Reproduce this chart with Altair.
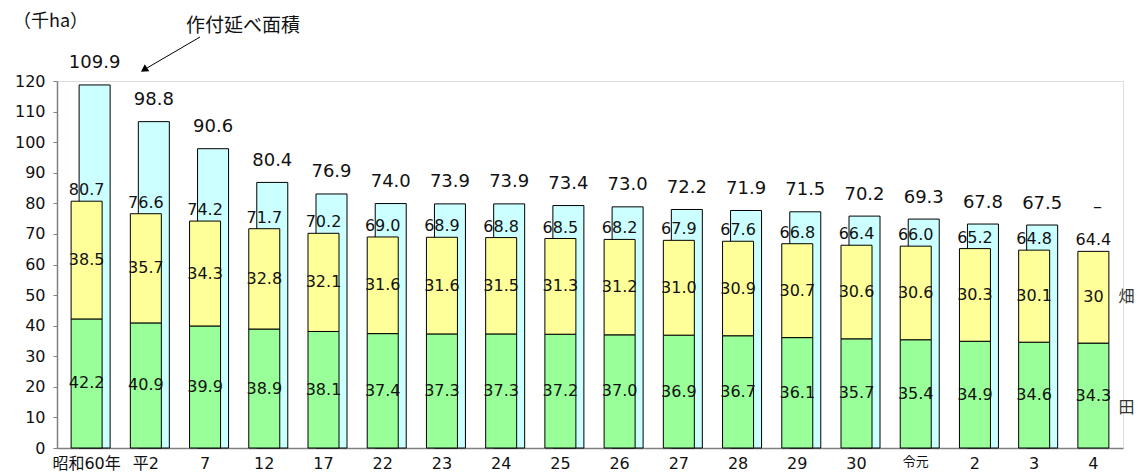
import altair as alt
import pandas as pd

# ---- data ----
cats = ["昭和60年", "平2", "7", "12", "17", "22", "23", "24", "25", "26",
        "27", "28", "29", "30", "令元", "2", "3", "4"]
paddy = [42.2, 40.9, 39.9, 38.9, 38.1, 37.4, 37.3, 37.3, 37.2, 37.0,
         36.9, 36.7, 36.1, 35.7, 35.4, 34.9, 34.6, 34.3]
field = [38.5, 35.7, 34.3, 32.8, 32.1, 31.6, 31.6, 31.5, 31.3, 31.2,
         31.0, 30.9, 30.7, 30.6, 30.6, 30.3, 30.1, 30]
total = [80.7, 76.6, 74.2, 71.7, 70.2, 69.0, 68.9, 68.8, 68.5, 68.2,
         67.9, 67.6, 66.8, 66.4, 66.0, 65.2, 64.8, 64.4]
planted = [109.9, 98.8, 90.6, 80.4, 76.9, 74.0, 73.9, 73.9, 73.4, 73.0,
           72.2, 71.9, 71.5, 70.2, 69.3, 67.8, 67.5, None]
series_names = ["田", "畑"]
series_colors = ["#99FF99", "#FFFF99"]
planted_color = "#CCFFFF"
unit_label = "（千ha）"
planted_name = "作付延べ面積"
missing_mark = "–"

NUM_FONT = "DejaVu Sans"
JP_FONT = "Noto Sans CJK JP"
MIX_FONT = "DejaVu Sans, Noto Sans CJK JP"


def fmt(v):
    return str(v) if isinstance(v, int) else f"{v:.1f}"


df = pd.DataFrame({"cat": cats, "paddy": paddy, "field": field,
                   "total": total})
df["paddy_lbl"] = [fmt(v) for v in paddy]
df["field_lbl"] = [fmt(v) for v in field]
df["total_lbl"] = [fmt(v) for v in total]
df["paddy_mid"] = df["paddy"] / 2
df["field_mid"] = df["paddy"] + df["field"] / 2

pl = pd.DataFrame({"cat": cats, "planted": planted})
pl_ok = pl.dropna().copy()
pl_ok["lbl"] = [fmt(v) for v in pl_ok["planted"]]
pl_missing = df[[p is None for p in planted]].copy()

long = pd.DataFrame({
    "cat": cats * 2,
    "series": [series_names[0]] * len(cats) + [series_names[1]] * len(cats),
    "value": paddy + field,
    "ord": [0] * len(cats) + [1] * len(cats),
})

main_scale = alt.Scale(domain=[0, 120])
# the planted-area bars are drawn on their own (hidden) scale in the original
planted_scale = alt.Scale(domain=[0, 111.1])

xaxis = alt.Axis(title=None, labelAngle=0, ticks=False, labelPadding=7,
                 labelFont=MIX_FONT,
                 labelFontSize={"expr": "datum.value == '令元' ? 13 : 16"},
                 labelColor="#111", domainColor="#808080",
                 domainWidth=1.5, grid=False)
xenc = alt.X("cat:N", sort=cats,
             scale=alt.Scale(paddingInner=0, paddingOuter=0), axis=xaxis)

cyan = alt.Chart(pl_ok).mark_bar(
    width=31, xOffset=8, fill=planted_color, stroke="#000", strokeWidth=1
).encode(
    x=xenc,
    y=alt.Y("planted:Q", scale=planted_scale, axis=None),
)

cyan_txt = alt.Chart(pl_ok).mark_text(
    dx=8, dy=-21.5, fontSize=18, font=NUM_FONT, color="#111"
).encode(
    x=xenc,
    y=alt.Y("planted:Q", scale=planted_scale, axis=None),
    text="lbl:N",
)

stack = alt.Chart(long).mark_bar(
    width=31, stroke="#000", strokeWidth=1
).encode(
    x=xenc,
    y=alt.Y("value:Q", stack="zero", scale=main_scale,
            axis=alt.Axis(title=None, values=list(range(0, 121, 10)),
                          grid=False, tickSize=4, labelPadding=8,
                          labelFont=NUM_FONT, labelFontSize=16,
                          labelColor="#111", domainColor="#808080",
                          tickColor="#808080", domainWidth=1.5)),
    color=alt.Color("series:N", scale=alt.Scale(domain=series_names,
                                                range=series_colors),
                    legend=None),
    order=alt.Order("ord:Q"),
)

txt_common = dict(fontSize=16, font=NUM_FONT, color="#111")

paddy_txt = alt.Chart(df).mark_text(**txt_common).encode(
    x=xenc,
    y=alt.Y("paddy_mid:Q", scale=main_scale, axis=None),
    text="paddy_lbl:N",
)
field_txt = alt.Chart(df).mark_text(**txt_common).encode(
    x=xenc,
    y=alt.Y("field_mid:Q", scale=main_scale, axis=None),
    text="field_lbl:N",
)
total_txt = alt.Chart(df).mark_text(dy=-11, **txt_common).encode(
    x=xenc,
    y=alt.Y("total:Q", scale=main_scale, axis=None),
    text="total_lbl:N",
)
missing_txt = alt.Chart(pl_missing).mark_text(
    dx=4, dy=-44, fontSize=18, font=NUM_FONT, color="#111"
).encode(
    x=xenc,
    y=alt.Y("total:Q", scale=main_scale, axis=None),
    text=alt.value(missing_mark),
)

last = df.iloc[[-1]]
field_name = alt.Chart(last).mark_text(
    dx=33, fontSize=16, font=JP_FONT, color="#333"
).encode(
    x=xenc,
    y=alt.Y("field_mid:Q", scale=main_scale, axis=None),
    text=alt.value(series_names[1]),
)
paddy_name = alt.Chart(last).mark_text(
    dx=33, dy=12, fontSize=16, font=JP_FONT, color="#333"
).encode(
    x=xenc,
    y=alt.Y("paddy_mid:Q", scale=main_scale, axis=None),
    text=alt.value(series_names[0]),
)

one = pd.DataFrame({"k": [0]})
unit_txt = alt.Chart(one).mark_text(
    align="left", baseline="middle", fontSize=18, font=JP_FONT, color="#111"
).encode(x=alt.value(-44), y=alt.value(-59), text=alt.value(unit_label))

anno_txt = alt.Chart(one).mark_text(
    align="center", baseline="middle", fontSize=19, font=JP_FONT,
    color="#111"
).encode(x=alt.value(186), y=alt.value(-55), text=alt.value(planted_name))

anno_line = alt.Chart(one).mark_rule(color="#000", strokeWidth=1).encode(
    x=alt.value(143), x2=alt.value(90), y=alt.value(-44), y2=alt.value(-13)
)
anno_head = alt.Chart(one).mark_point(
    shape="triangle", angle=237, filled=True, size=70, color="#000",
    opacity=1
).encode(x=alt.value(88), y=alt.value(-12))

chart = alt.layer(
    cyan, stack, cyan_txt, paddy_txt, field_txt, total_txt, missing_txt,
    field_name, paddy_name, unit_txt, anno_txt, anno_line, anno_head
).resolve_scale(y="independent").properties(
    width=1066, height=367,
    autosize=alt.AutoSizeParams(type="none"),
    padding={"left": 49, "top": 73, "right": 13, "bottom": 26},
).configure_view(stroke=None).configure(background="white")

chart.save("out.html", embed_options={"renderer": "svg", "actions": False})
